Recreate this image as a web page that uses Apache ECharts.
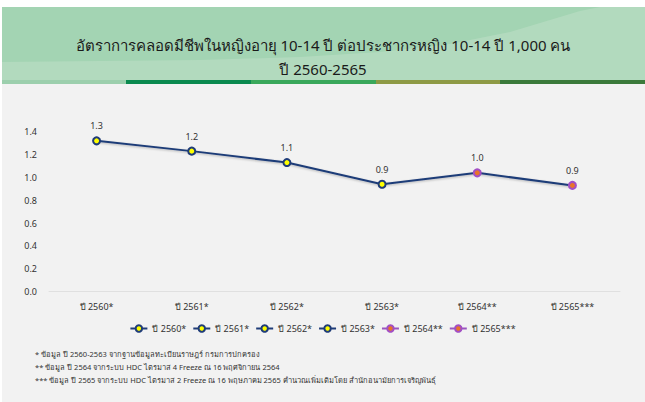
<!DOCTYPE html>
<html>
<head>
<meta charset="utf-8">
<script src="https://cdn.jsdelivr.net/npm/echarts@6/dist/echarts.min.js"></script>
<style>
  html, body { margin: 0; padding: 0; background: #fff; }
  #chart { width: 645px; height: 402px; }
</style>
</head>
<body>
<div id="chart"></div>
<script>
// ข้อมูล
const years = ["ปี 2560*", "ปี 2561*", "ปี 2562*", "ปี 2563*", "ปี 2564**", "ปี 2565***"];
const rates = [1.32, 1.23, 1.13, 0.94, 1.04, 0.93];
const yTicks = [0, 0.2, 0.4, 0.6, 0.8, 1.0, 1.2, 1.4];
const titleLines = [
  "อัตราการคลอดมีชีพในหญิงอายุ 10-14 ปี ต่อประชากรหญิง 10-14 ปี 1,000 คน",
  "ปี 2560-2565"
];
const notes = [
  "* ข้อมูล ปี 2560-2563 จากฐานข้อมูลทะเบียนราษฎร์ กรมการปกครอง",
  "** ข้อมูล ปี 2564 จากระบบ HDC ไตรมาส 4 Freeze ณ 16 พฤศจิกายน 2564",
  "*** ข้อมูล ปี 2565 จากระบบ HDC ไตรมาส 2 Freeze ณ 16 พฤษภาคม 2565 คำนวณเพิ่มเติมโดย สำนักอนามัยการเจริญพันธุ์"
];

const FONT = "Tahoma, 'Noto Sans', sans-serif";
const NAVY = "#1f3c78";

// สีจุดแต่ละปี (สองปีหลังเป็นสีส้ม/ม่วง)
const pointStyle = (i) => i < 4
  ? { color: "#ffff00", borderColor: NAVY, line: NAVY }
  : { color: "#e8742a", borderColor: "#a24fc4", line: "#9a55c0" };

const chart = echarts.init(document.getElementById("chart"), null, { renderer: "svg" });

const pointSeries = years.map((name, i) => {
  const st = pointStyle(i);
  return {
    name: name,
    type: "line",
    data: years.map((_, j) => (j === i ? rates[j] : null)),
    symbol: "circle",
    symbolSize: 7,
    z: 3,
    lineStyle: { color: st.line, width: 2 },
    itemStyle: { color: st.color, borderColor: st.borderColor, borderWidth: 2 },
    label: {
      show: true,
      position: "top",
      distance: 6,
      fontSize: 9,
      color: "#333",
      fontFamily: FONT,
      formatter: (p) => p.value.toFixed(1),
    },
    emphasis: { disabled: true },
  };
});

const option = {
  backgroundColor: "#fff",
  animation: false,
  graphic: [
    { type: "rect", z: -10, shape: { x: 2, y: 84, width: 643, height: 318 }, style: { fill: "#f2f2f2" } },
    { type: "rect", z: -10, shape: { x: 2, y: 7, width: 643, height: 73 }, style: { fill: "#a3d4b3" } },
    {
      type: "polygon", z: -9,
      shape: { points: [[2, 80], [2, 62], [100, 61], [200, 60], [300, 57], [380, 52], [450, 44], [510, 32], [550, 20], [580, 11], [600, 7], [645, 7], [645, 80]] },
      style: { fill: "#b2dabe" },
    },
    { type: "rect", z: -8, shape: { x: 2, y: 80, width: 124, height: 4 }, style: { fill: "#9ccfad" } },
    { type: "rect", z: -8, shape: { x: 126, y: 80, width: 125, height: 4 }, style: { fill: "#0b8a4f" } },
    { type: "rect", z: -8, shape: { x: 251, y: 80, width: 125, height: 4 }, style: { fill: "#3aa85b" } },
    { type: "rect", z: -8, shape: { x: 376, y: 80, width: 124, height: 4 }, style: { fill: "#8e9a45" } },
    { type: "rect", z: -8, shape: { x: 500, y: 80, width: 145, height: 4 }, style: { fill: "#3b7a3b" } },
    ...titleLines.map((t, i) => ({
      type: "text",
      z: 5,
      style: {
        x: 323, y: 45 + i * 24, text: t,
        textAlign: "center", textVerticalAlign: "middle",
        fontSize: 15, fill: "#1a1a1a", fontFamily: FONT,
      },
    })),
    ...notes.map((t, i) => ({
      type: "text",
      left: 35,
      top: 350 + i * 13,
      style: { text: t, fontSize: 7.5, fill: "#333", fontFamily: FONT },
    })),
  ],
  legend: {
    data: years,
    top: 319,
    left: "center",
    itemWidth: 17,
    itemHeight: 8,
    itemGap: 6,
    textStyle: { fontSize: 9, color: "#333", fontFamily: FONT },
    selectedMode: false,
  },
  grid: { left: 49, right: 25, top: 131.7, bottom: 110.3, containLabel: false },
  xAxis: {
    type: "category",
    data: years,
    boundaryGap: true,
    axisLine: { lineStyle: { color: "#e0e0e0", width: 1 } },
    axisTick: { show: false },
    axisLabel: { fontSize: 9, color: "#333", margin: 10, fontFamily: FONT },
  },
  yAxis: {
    type: "value",
    min: yTicks[0],
    max: yTicks[yTicks.length - 1],
    interval: 0.2,
    splitLine: { show: false },
    axisLine: { show: false },
    axisTick: { show: false },
    axisLabel: { fontSize: 9, color: "#333", margin: 12, fontFamily: FONT, formatter: (v) => v.toFixed(1) },
  },
  series: [
    {
      name: "rate",
      type: "line",
      data: rates,
      symbol: "none",
      z: 2,
      lineStyle: { color: NAVY, width: 2, shadowColor: "rgba(0,0,0,0.25)", shadowBlur: 2, shadowOffsetY: 1 },
      emphasis: { disabled: true },
    },
    ...pointSeries,
  ],
};

chart.setOption(option);
</script>
</body>
</html>
